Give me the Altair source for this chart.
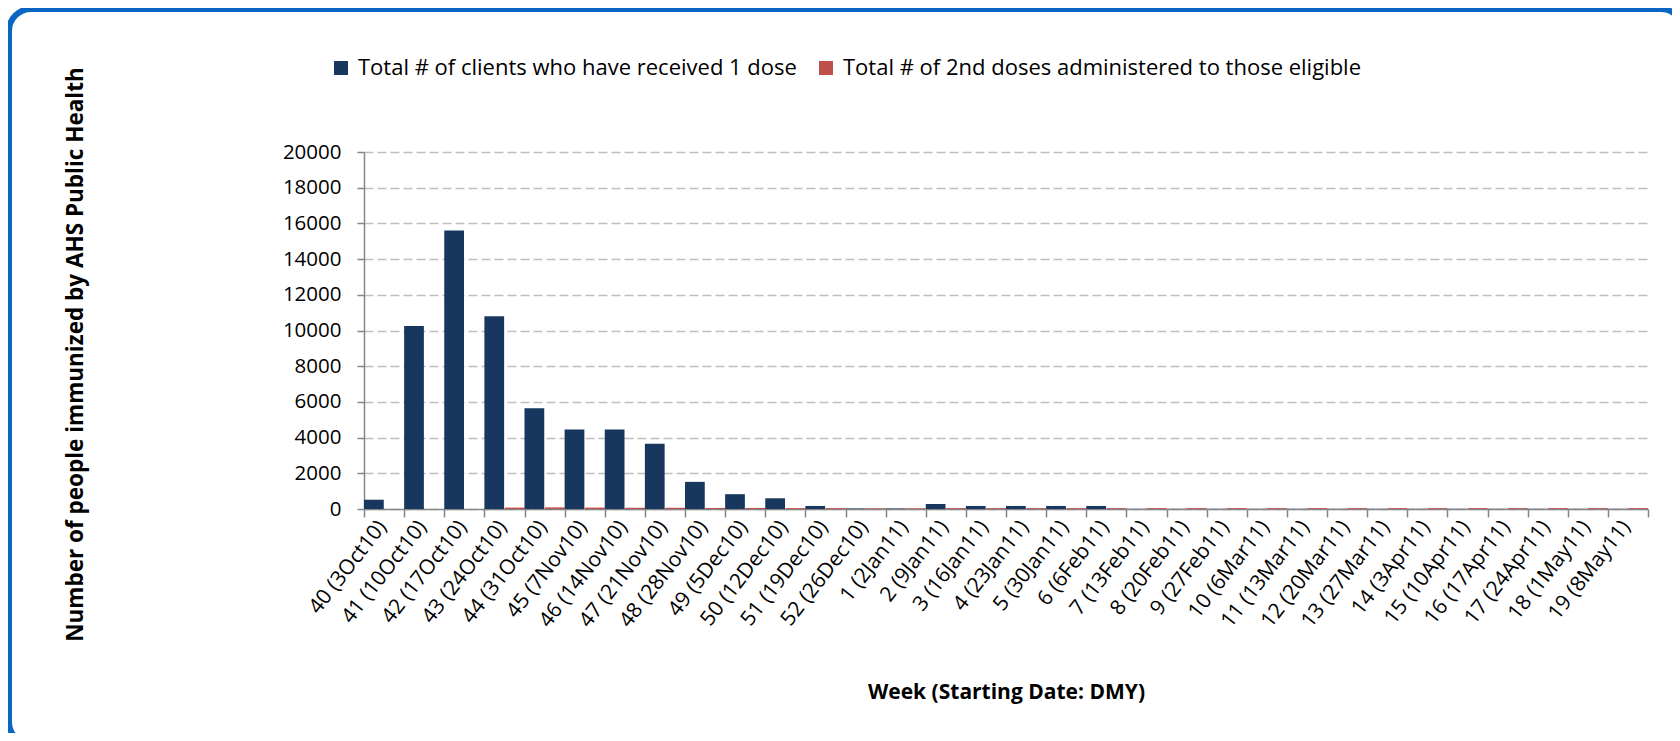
import altair as alt
import pandas as pd

weeks = ["40 (3Oct10)", "41 (10Oct10)", "42 (17Oct10)", "43 (24Oct10)", "44 (31Oct10)",
         "45 (7Nov10)", "46 (14Nov10)", "47 (21Nov10)", "48 (28Nov10)", "49 (5Dec10)",
         "50 (12Dec10)", "51 (19Dec10)", "52 (26Dec10)", "1 (2Jan11)", "2 (9Jan11)",
         "3 (16Jan11)", "4 (23Jan11)", "5 (30Jan11)", "6 (6Feb11)", "7 (13Feb11)",
         "8 (20Feb11)", "9 (27Feb11)", "10 (6Mar11)", "11 (13Mar11)", "12 (20Mar11)",
         "13 (27Mar11)", "14 (3Apr11)", "15 (10Apr11)", "16 (17Apr11)", "17 (24Apr11)",
         "18 (1May11)", "19 (8May11)"]

first_dose = [520, 10250, 15600, 10800, 5650, 4450, 4450, 3650, 1520, 830,
              600, 170, 30, 30, 280, 170, 170, 170, 170, 10,
              10, 10, 10, 10, 10, 10, 10, 10, 10, 10,
              10, 10]

second_dose = [0, 0, 0, 80, 90, 80, 70, 70, 60, 60,
               50, 50, 40, 40, 50, 50, 50, 50, 50, 50,
               50, 50, 50, 50, 50, 50, 50, 50, 50, 50,
               50, 50]

series_names = ["Total # of clients who have received 1 dose",
                "Total # of 2nd doses administered to those eligible"]
series_colors = ["#17375E", "#C0504D"]
y_ticks = [0, 2000, 4000, 6000, 8000, 10000, 12000, 14000, 16000, 18000, 20000]

rows = []
for w, a, b in zip(weeks, first_dose, second_dose):
    rows.append({"week": w, "series": series_names[0], "value": a})
    rows.append({"week": w, "series": series_names[1], "value": b})
df = pd.DataFrame(rows)

FONT = "Open Sans"
PLOT_W, PLOT_H = 1284, 357
PAD_L, PAD_T = 356, 144

bars = alt.Chart(df).mark_bar().encode(
    x=alt.X("week:N", sort=weeks,
            scale=alt.Scale(paddingInner=0, paddingOuter=0),
            axis=alt.Axis(title="Week (Starting Date: DMY)",
                          titleX=PLOT_W / 2, titleY=183,
                          titleFont=FONT, titleFontSize=21, titleFontWeight="bold",
                          titleColor="black", titleBaseline="middle",
                          labelAngle=308, labelAlign="right", labelBaseline="middle",
                          labelFont=FONT, labelFontSize=21, labelColor="black",
                          labelPadding=6, labelOffset=-2, labelOverlap=False,
                          tickBand="extent", tickSize=8, tickColor="#868686", tickWidth=1.5,
                          domainColor="#868686", domainWidth=1.5, grid=False)),
    xOffset=alt.XOffset("series:N", sort=series_names,
                        scale=alt.Scale(paddingInner=0.03, paddingOuter=0)),
    y=alt.Y("value:Q",
            scale=alt.Scale(domain=[0, 20000], nice=False),
            axis=alt.Axis(values=y_ticks, format="d",
                          title="Number of people immunized by AHS Public Health",
                          titleX=-289, titleY=202, titleAngle=270,
                          titleAlign="center", titleBaseline="middle",
                          titleFont=FONT, titleFontSize=22.5, titleFontWeight="bold",
                          titleColor="black",
                          labelFont=FONT, labelFontSize=20.5, labelColor="black",
                          labelPadding=16, tickSize=7, tickColor="#868686", tickWidth=1.5,
                          domainColor="#868686", domainWidth=1.5,
                          grid=True, gridColor="#BFBFBF", gridDash=[9, 4], gridWidth=1.5)),
    color=alt.Color("series:N", sort=series_names,
                    scale=alt.Scale(domain=series_names, range=series_colors),
                    legend=alt.Legend(title=None, orient="none", direction="horizontal",
                                      legendX=-34, legendY=-95,
                                      symbolType="square", symbolSize=196,
                                      symbolStrokeWidth=0, symbolOpacity=1,
                                      labelFont=FONT, labelFontSize=22, labelColor="black",
                                      labelLimit=800, columnPadding=18, labelOffset=6)),
)

border = alt.Chart(pd.DataFrame({"b": [1]})).mark_rect(
    filled=False, stroke="#0B65C2", strokeWidth=6, cornerRadius=22
).encode(
    x=alt.value(1 - PAD_L), x2=alt.value(1675 - PAD_L),
    y=alt.value(1 - PAD_T), y2=alt.value(736 - PAD_T),
)

chart = alt.layer(bars, border).properties(
    width=PLOT_W, height=PLOT_H,
    autosize=alt.AutoSizeParams(type="none"),
    padding={"left": PAD_L, "top": PAD_T, "right": 24, "bottom": 224},
    background="white",
).configure_view(stroke=None)

chart.save("out.html", embed_options={"renderer": "svg", "actions": False})
